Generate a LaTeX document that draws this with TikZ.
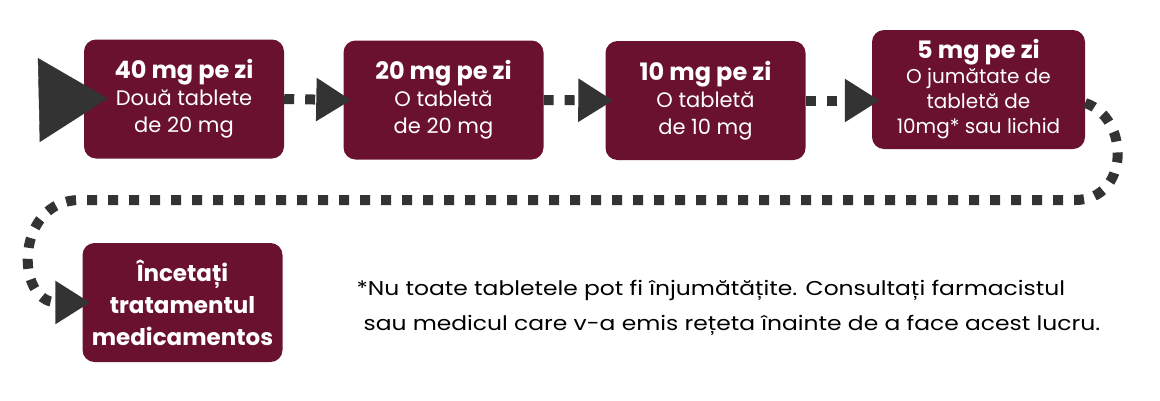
\documentclass[tikz,border=0pt]{standalone}
\usepackage{fontspec}
\setmainfont{Poppins}
\newfontfamily\notefont[FakeStretch=1.17]{Poppins}
\usetikzlibrary{arrows.meta,positioning}
\definecolor{wine}{HTML}{6A1130}
\definecolor{ink}{HTML}{333333}

\begin{document}
\begin{tikzpicture}[x=1pt,y=-1pt,
    dose/.style={fill=wine,text=white,rounded corners=12pt,inner sep=0pt,align=center,
      minimum width=200pt,minimum height=119pt,font=\fontsize{21}{27}\selectfont},
    flow/.style={ink,line width=10pt,dash pattern=on 10pt off 11pt,
      -{Triangle[length=35pt,width=41pt]},shorten >=-8pt}]
    \useasboundingbox (0,0) rectangle (1160,400);
    % doses
    \node[dose] (d40) at (184,99) {{\fontsize{24}{27}\selectfont\bfseries 40 mg pe zi}\\Două tablete\\de 20 mg};
    \node[dose] (d20) at (443.5,100) {{\fontsize{24}{27}\selectfont\bfseries 20 mg pe zi}\\O tabletă\\de 20 mg};
    \node[dose] (d10) at (705.5,100.5) {{\fontsize{24}{27}\selectfont\bfseries 10 mg pe zi}\\O tabletă\\de 10 mg};
    \node[dose,minimum width=213pt,font=\fontsize{20}{25}\selectfont] (d5) at (978.5,89.5)
        {{\fontsize{24}{25}\selectfont\bfseries 5 mg pe zi}\\O jumătate de\\tabletă de\\10mg* sau lichid};
    \node[dose,font=\fontsize{23}{32}\selectfont\bfseries] (stop) at (182.5,302.5) {Încetați\\tratamentul\\medicamentos};
    % arrows
    \coordinate (start) at (39,100);
    \draw[ink,-{Triangle[length=69pt,width=84pt]},shorten >=-24pt] (start) -- (d40.west);
    \draw[flow] (d40.east) -- (d20.west);
    \draw[flow] (d20.east) -- (d10.west);
    \draw[flow] (d10.east) -- (d10.east -| d5.west);
    \coordinate (turnR) at (1075,200);
    \coordinate (turnL) at (80,200);
    \draw[flow] ([yshift=-13.5pt]d5.east) .. controls +(45,15) and +(55,0) .. (turnR) -- (turnL)
        .. controls +(-65,0) and +(-68,0) .. (stop.west);
    % note
    \node[anchor=west,align=left,font=\notefont\fontsize{20}{35}\selectfont] (note) at (353,308)
        {*Nu toate tabletele pot fi înjumătățite. Consultați farmacistul\\
         \hspace*{7pt}sau medicul care v-a emis rețeta înainte de a face acest lucru.};
\end{tikzpicture}
\end{document}
